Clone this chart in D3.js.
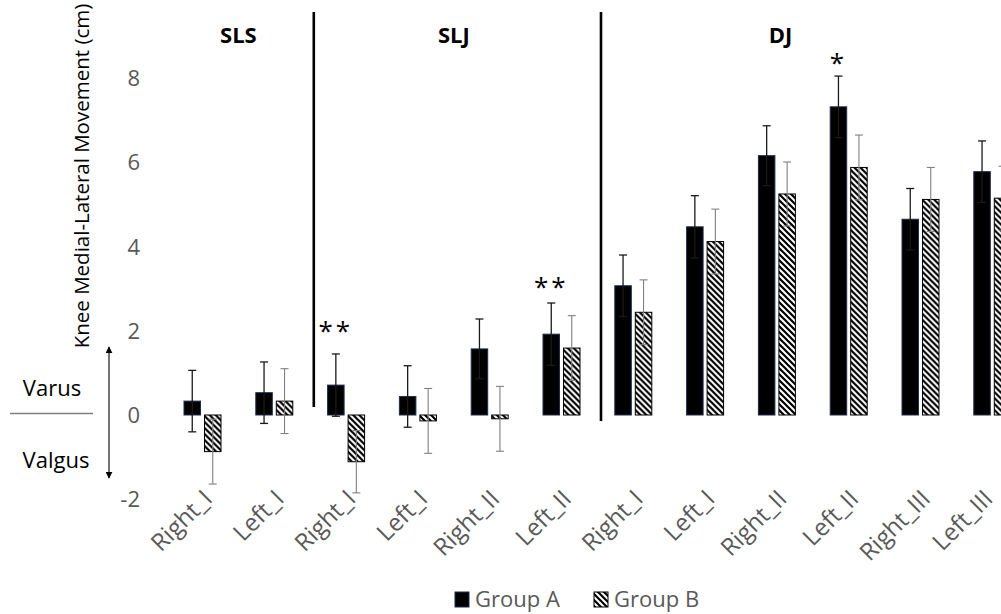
<!DOCTYPE html>
<html>
<head>
<meta charset="utf-8">
<script src="https://cdn.jsdelivr.net/npm/d3@7"></script>
<style>
  html, body { margin: 0; padding: 0; background: #fff; }
  svg { display: block; }
  text { font-family: "Open Sans", "Noto Sans", sans-serif; }
</style>
</head>
<body>
<svg id="chart" width="1001" height="614"></svg>
<script>
// ---------------- data ----------------
const categories = ["Right_I","Left_I","Right_I","Left_I","Right_II","Left_II",
                    "Right_I","Left_I","Right_II","Left_II","Right_III","Left_III"];
const groupA    = [0.33, 0.53, 0.71, 0.44, 1.57, 1.92, 3.07, 4.47, 6.16, 7.32, 4.65, 5.78];
const groupAErr = [0.73, 0.73, 0.74, 0.73, 0.71, 0.74, 0.73, 0.74, 0.71, 0.73, 0.73, 0.73];
const groupB    = [-0.87, 0.33, -1.11, -0.14, -0.09, 1.59, 2.44, 4.12, 5.25, 5.88, 5.12, 5.15];
const groupBErr = [0.77, 0.77, 0.74, 0.77, 0.77, 0.77, 0.77, 0.77, 0.76, 0.77, 0.76, 0.76];
const seriesNames = ["Group A", "Group B"];
const yTicks = [-2, 0, 2, 4, 6, 8];
const sections = ["SLS", "SLJ", "DJ"];
const sectionTitleAt = [0.5, 3.5, 8.05];   // in category-index units
const dividersAt = [1.55, 5.55];            // in category-index units
const sigCategory = [2, 5, 9];
const sigText = ["**", "**", "*"];
const sigLevel = [1.78, 2.83, 8.15];         // y value of the marker baseline

// ---------------- layout ----------------
const svg = d3.select("#chart");
const W = 1001, H = 614;
svg.append("rect").attr("width", W).attr("height", H).attr("fill", "#fff");

const x0 = d3.scaleBand().domain(d3.range(categories.length))
  .range([166.6, 1028.2]).padding(0);
const x1 = d3.scaleBand().domain(seriesNames).range([0, x0.bandwidth()])
  .paddingInner(0.195).paddingOuter(0.849);
const xi = d3.scaleLinear().domain([0, categories.length - 1])
  .range([x0(0) + x0.bandwidth() / 2, x0(categories.length - 1) + x0.bandwidth() / 2]);
const y = d3.scaleLinear().domain([-2, 8]).range([499.2, 78.2]);

// hatch pattern
const defs = svg.append("defs");
const pat = defs.append("pattern").attr("id", "hatch")
  .attr("patternUnits", "userSpaceOnUse").attr("width", 6).attr("height", 6);
pat.append("rect").attr("width", 6).attr("height", 6).attr("fill", "#fff");
pat.append("path").attr("d", "M-1,-1 L7,7 M-4,2 L2,8 M4,-2 L8,2")
  .attr("stroke", "#000").attr("stroke-width", 2.2);

// y tick labels
svg.append("g").selectAll("text").data(yTicks).join("text")
  .attr("x", 140).attr("y", d => y(d)).attr("dy", "0.36em")
  .attr("text-anchor", "end").attr("font-size", 22).attr("fill", "#595959")
  .text(d => d);

// y axis title
svg.append("text")
  .attr("transform", `translate(89,176) rotate(-90)`)
  .attr("text-anchor", "middle").attr("font-size", 20.5).attr("fill", "#000")
  .text("Knee Medial-Lateral Movement (cm)");

// Varus / Valgus annotation
svg.append("text").attr("x", 52).attr("y", 396).attr("text-anchor", "middle")
  .attr("font-size", 22).attr("fill", "#000").text("Varus");
svg.append("text").attr("x", 56).attr("y", 468).attr("text-anchor", "middle")
  .attr("font-size", 22).attr("fill", "#000").text("Valgus");
svg.append("line").attr("x1", 10).attr("x2", 93).attr("y1", y(0) - 1.5).attr("y2", y(0) - 1.5)
  .attr("stroke", "#808080").attr("stroke-width", 1.3);
defs.append("marker").attr("id", "arr").attr("viewBox", "0 0 10 10")
  .attr("refX", 9).attr("refY", 5).attr("markerWidth", 7).attr("markerHeight", 7)
  .attr("markerUnits", "userSpaceOnUse").attr("orient", "auto-start-reverse")
  .append("path").attr("d", "M0,0 L10,5 L0,10 Z").attr("fill", "#000");
svg.append("line").attr("x1", 109).attr("x2", 109).attr("y1", 347).attr("y2", 478)
  .attr("stroke", "#000").attr("stroke-width", 1.1)
  .attr("marker-start", "url(#arr)").attr("marker-end", "url(#arr)");

// section dividers
svg.append("g").selectAll("line").data(dividersAt).join("line")
  .attr("x1", d => xi(d)).attr("x2", d => xi(d))
  .attr("y1", 12).attr("y2", (d, i) => i === 0 ? 407 : 421)
  .attr("stroke", "#000").attr("stroke-width", 2.6);

// section titles
svg.append("g").selectAll("text").data(sections).join("text")
  .attr("x", (d, i) => xi(sectionTitleAt[i])).attr("y", 43)
  .attr("text-anchor", "middle").attr("font-size", 22).attr("font-weight", "bold")
  .attr("fill", "#000").text(d => d);

// bars
const rows = categories.map((c, i) => ({
  i, c,
  vals: [
    { s: "Group A", v: groupA[i], e: groupAErr[i] },
    { s: "Group B", v: groupB[i], e: groupBErr[i] }
  ]
}));
const cat = svg.append("g").selectAll("g").data(rows).join("g")
  .attr("transform", d => `translate(${x0(d.i)},0)`);
cat.selectAll("rect").data(d => d.vals).join("rect")
  .attr("x", d => x1(d.s)).attr("width", x1.bandwidth())
  .attr("y", d => y(Math.max(0, d.v))).attr("height", d => Math.abs(y(d.v) - y(0)))
  .attr("fill", d => d.s === "Group A" ? "#000" : "url(#hatch)")
  .attr("stroke", d => d.s === "Group A" ? "#1f2d4d" : "#000")
  .attr("stroke-width", 1);

// error bars
const eb = cat.selectAll("g.err").data(d => d.vals).join("g").attr("class", "err")
  .attr("stroke", d => d.s === "Group A" ? "#1a1a1a" : "#808080")
  .attr("stroke-width", d => d.s === "Group A" ? 1.3 : 1.1);
eb.append("line")
  .attr("x1", d => x1(d.s) + x1.bandwidth() / 2).attr("x2", d => x1(d.s) + x1.bandwidth() / 2)
  .attr("y1", d => y(d.v + d.e)).attr("y2", d => y(d.v - d.e));
eb.append("line")
  .attr("x1", d => x1(d.s) + x1.bandwidth() / 2 - 4).attr("x2", d => x1(d.s) + x1.bandwidth() / 2 + 4)
  .attr("y1", d => y(d.v + d.e)).attr("y2", d => y(d.v + d.e));
eb.append("line")
  .attr("x1", d => x1(d.s) + x1.bandwidth() / 2 - 4).attr("x2", d => x1(d.s) + x1.bandwidth() / 2 + 4)
  .attr("y1", d => y(d.v - d.e)).attr("y2", d => y(d.v - d.e));

// significance markers
svg.append("g").selectAll("text").data(sigCategory).join("text")
  .attr("x", (d, i) => x0(d) + x1("Group A") + x1.bandwidth() / 2)
  .attr("y", (d, i) => y(sigLevel[i]))
  .attr("text-anchor", "middle").attr("font-size", 26).attr("letter-spacing", 3)
  .attr("fill", "#000").text((d, i) => sigText[i]);

// x category labels (kept inside the canvas at the right edge)
svg.append("g").selectAll("text").data(categories).join("text")
  .attr("transform", (d, i) =>
    `translate(${Math.min(x0(i) + x0.bandwidth() / 2 - 1, W - 19)},488) rotate(-45)`)
  .attr("dy", "0.72em")
  .attr("text-anchor", "end").attr("font-size", 24).attr("fill", "#595959")
  .text(d => d);

// legend
const lg = svg.append("g");
const lx = [455, 594];
seriesNames.forEach((s, i) => {
  lg.append("rect").attr("x", lx[i]).attr("y", 592).attr("width", 14).attr("height", 15)
    .attr("fill", i === 0 ? "#000" : "url(#hatch)")
    .attr("stroke", i === 0 ? "#1f2d4d" : "#000").attr("stroke-width", 1);
  lg.append("text").attr("x", lx[i] + 20).attr("y", 607)
    .attr("font-size", 22).attr("fill", "#595959").text(s);
});
</script>
</body>
</html>
